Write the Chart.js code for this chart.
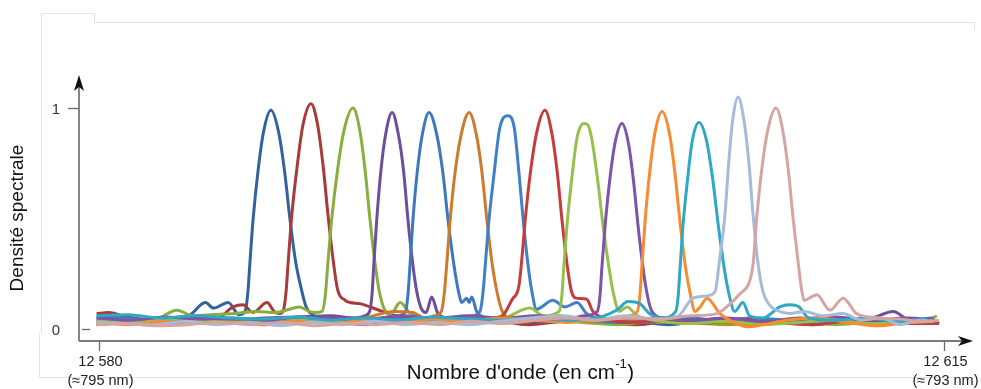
<!DOCTYPE html>
<html>
<head>
<meta charset="utf-8">
<script src="https://cdn.jsdelivr.net/npm/chart.js@4.4.1/dist/chart.umd.min.js"></script>
<style>
  body { margin: 0; background: #ffffff; }
</style>
</head>
<body>
<canvas id="spectre" width="981" height="389"></canvas>
<script>
// Axes
const xRange = [12579.17, 12616.16];
const yRange = [-0.054, 1.118];
const xTicks = [12580, 12615];
const xTickLabels = ['12 580', '12 615'];
const xTickNotes = ['(≈795 nm)', '(≈793 nm)'];
const yTicks = [0, 1];
const yTickLabels = ['0', '1'];

const couleurs = ['#32639e', '#a83a3a', '#87ae3f', '#6c4f9a', '#3d78be', '#cd7b2b', '#3f80c8',
                  '#c53c3c', '#97c04b', '#7b55a7', '#f68b31', '#2fa7c7', '#a6bbd8', '#d6a5a3'];

// Spectres (nombre d'onde en cm-1, densité normalisée)
const spectre1 = [[12579.9,0.05],[12581.2,0.04],[12582.6,0.05],[12583.7,0.06],[12584.4,0.12],[12584.75,0.095],[12585.35,0.12],[12585.8,0.065],[12586.05,0.08],[12586.16,0.16],[12586.25,0.3],[12586.38,0.495],[12586.58,0.71],[12586.81,0.89],[12587.12,0.99],[12587.44,0.89],[12587.69,0.71],[12587.91,0.495],[12588.15,0.3],[12588.34,0.2],[12588.58,0.1],[12588.92,0.06],[12589.6,0.04],[12590.6,0.05],[12591.8,0.035],[12593.2,0.045],[12594.6,0.03],[12596.0,0.04],[12597.6,0.025],[12599.1,0.04],[12600.6,0.03],[12602.1,0.035],[12603.6,0.02],[12605.1,0.04],[12606.6,0.03],[12608.1,0.035],[12609.6,0.02],[12611.1,0.04],[12612.6,0.03],[12614.0,0.035],[12614.6,0.03]];
const spectre2 = [[12579.9,0.07],[12580.4,0.075],[12581.0,0.06],[12582.2,0.04],[12583.5,0.05],[12584.9,0.05],[12585.55,0.1],[12585.96,0.11],[12586.38,0.075],[12586.96,0.12],[12587.25,0.08],[12587.45,0.07],[12587.62,0.08],[12587.74,0.16],[12587.84,0.31],[12587.98,0.51],[12588.2,0.73],[12588.44,0.92],[12588.78,1.02],[12589.06,0.92],[12589.29,0.73],[12589.49,0.51],[12589.7,0.31],[12589.88,0.18],[12590.2,0.13],[12590.4,0.12],[12590.8,0.115],[12591.6,0.085],[12592.3,0.06],[12593.4,0.045],[12594.8,0.03],[12596.3,0.04],[12597.8,0.02],[12599.3,0.035],[12600.8,0.03],[12602.3,0.02],[12603.8,0.04],[12605.3,0.03],[12606.8,0.02],[12608.3,0.035],[12609.8,0.04],[12611.3,0.025],[12612.8,0.03],[12614.0,0.03],[12614.8,0.03]];
const spectre3 = [[12579.9,0.02],[12581.0,0.03],[12582.3,0.04],[12583.23,0.085],[12583.9,0.06],[12584.6,0.065],[12585.6,0.07],[12586.5,0.08],[12587.3,0.075],[12587.9,0.09],[12588.3,0.1],[12588.7,0.08],[12588.95,0.075],[12589.24,0.08],[12589.38,0.16],[12589.48,0.3],[12589.64,0.5],[12589.88,0.72],[12590.15,0.9],[12590.52,1.0],[12590.8,0.9],[12591.02,0.72],[12591.22,0.5],[12591.43,0.3],[12591.61,0.17],[12591.82,0.09],[12592.1,0.07],[12592.47,0.12],[12592.9,0.07],[12593.5,0.05],[12594.5,0.04],[12595.8,0.05],[12597.2,0.03],[12598.6,0.04],[12600.0,0.03],[12601.5,0.02],[12603.0,0.035],[12604.5,0.03],[12606.0,0.02],[12607.5,0.03],[12609.0,0.035],[12610.5,0.02],[12612.0,0.03],[12613.5,0.025],[12614.3,0.04],[12614.7,0.06]];
const spectre4 = [[12579.9,0.04],[12581.3,0.03],[12582.7,0.045],[12584.0,0.05],[12585.4,0.04],[12586.8,0.05],[12588.2,0.055],[12589.6,0.06],[12590.6,0.05],[12591.0,0.06],[12591.21,0.08],[12591.31,0.16],[12591.38,0.29],[12591.5,0.49],[12591.67,0.71],[12591.87,0.88],[12592.14,0.98],[12592.4,0.88],[12592.62,0.71],[12592.8,0.49],[12593.0,0.29],[12593.16,0.17],[12593.36,0.09],[12593.55,0.075],[12593.78,0.145],[12594.04,0.07],[12594.5,0.05],[12595.5,0.04],[12597.0,0.05],[12598.5,0.03],[12600.0,0.045],[12601.5,0.035],[12603.0,0.05],[12604.5,0.04],[12606.0,0.045],[12607.5,0.03],[12609.0,0.05],[12610.5,0.04],[12612.0,0.05],[12612.9,0.08],[12613.6,0.04],[12614.6,0.045]];
const spectre5 = [[12579.9,0.06],[12581.0,0.05],[12582.4,0.04],[12583.8,0.03],[12585.2,0.045],[12586.6,0.04],[12588.0,0.03],[12589.4,0.045],[12590.8,0.04],[12591.8,0.05],[12592.4,0.06],[12592.7,0.08],[12592.8,0.16],[12592.88,0.29],[12593.0,0.49],[12593.18,0.71],[12593.39,0.88],[12593.67,0.98],[12593.99,0.88],[12594.24,0.71],[12594.46,0.49],[12594.7,0.29],[12594.89,0.17],[12595.02,0.12],[12595.23,0.14],[12595.33,0.12],[12595.44,0.145],[12595.64,0.08],[12596.0,0.05],[12597.0,0.035],[12598.5,0.05],[12600.0,0.04],[12601.5,0.03],[12603.0,0.04],[12604.5,0.05],[12606.0,0.035],[12607.5,0.045],[12609.0,0.03],[12610.5,0.04],[12612.0,0.05],[12613.5,0.04],[12614.5,0.05]];
const spectre6 = [[12579.9,0.03],[12581.4,0.04],[12582.8,0.025],[12584.2,0.035],[12585.6,0.03],[12587.0,0.045],[12588.4,0.035],[12589.8,0.04],[12591.0,0.05],[12592.2,0.08],[12593.0,0.075],[12593.5,0.05],[12593.9,0.06],[12594.18,0.08],[12594.3,0.16],[12594.4,0.29],[12594.54,0.49],[12594.75,0.71],[12595.0,0.88],[12595.33,0.98],[12595.63,0.88],[12595.86,0.71],[12596.07,0.49],[12596.29,0.29],[12596.48,0.17],[12596.7,0.08],[12597.0,0.05],[12597.8,0.04],[12599.0,0.06],[12600.4,0.035],[12601.8,0.045],[12603.2,0.03],[12604.6,0.04],[12606.0,0.025],[12607.4,0.035],[12608.8,0.045],[12610.2,0.03],[12611.6,0.04],[12613.0,0.03],[12614.4,0.035]];
const spectre7 = [[12579.9,0.035],[12581.2,0.045],[12582.6,0.03],[12584.0,0.04],[12585.4,0.025],[12586.8,0.035],[12588.2,0.03],[12589.6,0.04],[12591.0,0.035],[12592.4,0.045],[12593.8,0.04],[12595.0,0.05],[12595.5,0.06],[12595.78,0.08],[12595.9,0.16],[12596.0,0.29],[12596.14,0.48],[12596.36,0.7],[12596.6,0.91],[12596.94,0.965],[12597.2,0.91],[12597.4,0.7],[12597.58,0.48],[12597.77,0.29],[12597.93,0.17],[12598.12,0.09],[12598.8,0.13],[12599.3,0.1],[12599.8,0.12],[12600.2,0.07],[12601.0,0.04],[12602.5,0.03],[12604.0,0.045],[12605.5,0.035],[12607.0,0.05],[12608.5,0.04],[12610.0,0.03],[12611.5,0.045],[12613.0,0.04],[12614.5,0.045]];
const spectre8 = [[12579.9,0.02],[12581.3,0.03],[12582.7,0.02],[12584.1,0.035],[12585.5,0.03],[12586.9,0.02],[12588.3,0.04],[12589.7,0.03],[12591.1,0.02],[12592.5,0.035],[12593.9,0.03],[12595.3,0.04],[12596.2,0.05],[12596.7,0.06],[12597.15,0.14],[12597.3,0.16],[12597.4,0.2],[12597.5,0.3],[12597.65,0.49],[12597.87,0.71],[12598.13,0.89],[12598.47,0.99],[12598.75,0.89],[12598.98,0.71],[12599.18,0.49],[12599.39,0.29],[12599.57,0.17],[12599.75,0.14],[12600.2,0.135],[12600.46,0.08],[12600.9,0.05],[12602.0,0.03],[12603.5,0.04],[12605.0,0.025],[12606.5,0.045],[12608.0,0.03],[12609.5,0.02],[12611.0,0.035],[12612.5,0.03],[12614.0,0.025],[12614.8,0.025]];
const spectre9 = [[12579.9,0.04],[12581.5,0.03],[12583.0,0.045],[12584.5,0.035],[12586.0,0.03],[12587.5,0.045],[12589.0,0.035],[12590.5,0.03],[12592.0,0.04],[12593.5,0.03],[12595.0,0.045],[12596.5,0.04],[12597.85,0.095],[12598.4,0.06],[12599.06,0.08],[12599.17,0.15],[12599.25,0.28],[12599.38,0.465],[12599.57,0.67],[12599.79,0.86],[12599.99,0.925],[12600.09,0.93],[12600.24,0.925],[12600.41,0.86],[12600.66,0.67],[12600.88,0.465],[12601.12,0.28],[12601.31,0.16],[12601.55,0.08],[12601.87,0.1],[12602.3,0.06],[12603.0,0.04],[12604.5,0.025],[12606.0,0.035],[12607.5,0.02],[12609.0,0.03],[12610.5,0.04],[12612.0,0.025],[12613.5,0.03],[12614.6,0.035]];
const spectre10 = [[12579.9,0.05],[12581.3,0.04],[12582.7,0.055],[12584.1,0.045],[12585.5,0.05],[12586.9,0.04],[12588.3,0.055],[12589.7,0.05],[12591.1,0.045],[12592.5,0.06],[12593.9,0.05],[12595.3,0.06],[12596.7,0.05],[12598.1,0.06],[12599.5,0.05],[12600.1,0.06],[12600.64,0.08],[12600.75,0.15],[12600.83,0.28],[12600.96,0.465],[12601.15,0.67],[12601.37,0.84],[12601.66,0.93],[12601.93,0.84],[12602.14,0.67],[12602.33,0.465],[12602.53,0.28],[12602.7,0.16],[12602.9,0.08],[12603.4,0.05],[12604.5,0.04],[12606.0,0.05],[12607.5,0.035],[12609.0,0.045],[12610.5,0.055],[12612.0,0.04],[12613.5,0.05],[12614.6,0.04]];
const spectre11 = [[12579.9,0.03],[12581.2,0.02],[12582.6,0.035],[12584.0,0.025],[12585.4,0.03],[12586.8,0.02],[12588.2,0.035],[12589.6,0.025],[12591.0,0.04],[12592.4,0.03],[12593.8,0.045],[12595.2,0.035],[12596.6,0.05],[12598.0,0.04],[12599.4,0.03],[12600.8,0.045],[12601.6,0.05],[12602.0,0.06],[12602.3,0.08],[12602.41,0.16],[12602.49,0.29],[12602.62,0.49],[12602.81,0.71],[12603.03,0.89],[12603.32,0.985],[12603.62,0.89],[12603.85,0.71],[12604.06,0.49],[12604.28,0.29],[12604.47,0.17],[12604.69,0.08],[12604.9,0.1],[12605.18,0.14],[12605.72,0.07],[12606.3,0.03],[12606.84,0.01],[12607.5,0.02],[12608.5,0.04],[12609.8,0.05],[12611.0,0.03],[12612.3,0.015],[12613.5,0.03],[12614.5,0.035]];
const spectre12 = [[12579.9,0.06],[12581.2,0.065],[12582.6,0.05],[12584.0,0.06],[12585.4,0.05],[12586.8,0.045],[12588.2,0.055],[12589.6,0.04],[12591.0,0.05],[12592.4,0.04],[12593.8,0.055],[12595.2,0.045],[12596.6,0.04],[12598.0,0.05],[12599.4,0.04],[12600.6,0.05],[12601.5,0.09],[12601.9,0.125],[12602.4,0.115],[12602.8,0.07],[12603.3,0.05],[12603.89,0.08],[12603.99,0.15],[12604.07,0.28],[12604.19,0.47],[12604.37,0.67],[12604.57,0.85],[12604.85,0.935],[12605.17,0.85],[12605.43,0.67],[12605.65,0.47],[12605.89,0.28],[12606.09,0.16],[12606.33,0.08],[12606.67,0.12],[12606.95,0.06],[12607.5,0.05],[12608.2,0.1],[12608.6,0.11],[12609.0,0.1],[12609.4,0.05],[12610.5,0.04],[12611.8,0.05],[12613.0,0.035],[12614.3,0.045]];
const spectre13 = [[12579.9,0.03],[12581.0,0.025],[12582.3,0.02],[12583.6,0.035],[12584.9,0.02],[12586.2,0.03],[12587.5,0.015],[12588.8,0.03],[12590.1,0.02],[12591.4,0.035],[12592.7,0.02],[12594.0,0.03],[12595.3,0.02],[12596.6,0.035],[12597.9,0.05],[12599.2,0.06],[12600.5,0.04],[12601.8,0.06],[12603.1,0.045],[12604.0,0.06],[12604.6,0.14],[12605.18,0.15],[12605.52,0.17],[12605.69,0.3],[12605.93,0.52],[12606.08,0.75],[12606.24,0.94],[12606.47,1.05],[12606.72,0.94],[12606.92,0.75],[12607.09,0.52],[12607.28,0.31],[12607.5,0.17],[12607.77,0.11],[12608.07,0.085],[12608.6,0.07],[12609.2,0.08],[12610.0,0.06],[12610.8,0.07],[12611.6,0.04],[12612.4,0.05],[12613.2,0.02],[12614.0,0.04],[12614.5,0.035]];
const spectre14 = [[12579.9,0.02],[12581.1,0.025],[12582.4,0.015],[12583.7,0.02],[12585.0,0.03],[12586.3,0.02],[12587.6,0.03],[12588.9,0.015],[12590.2,0.025],[12591.5,0.02],[12592.8,0.03],[12594.1,0.02],[12595.4,0.035],[12596.7,0.025],[12598.0,0.04],[12599.3,0.05],[12600.6,0.04],[12601.9,0.05],[12603.2,0.045],[12604.5,0.06],[12605.6,0.07],[12606.0,0.1],[12606.55,0.16],[12606.96,0.22],[12607.1,0.3],[12607.24,0.5],[12607.45,0.72],[12607.7,0.9],[12608.04,1.0],[12608.32,0.9],[12608.55,0.72],[12608.75,0.5],[12608.96,0.3],[12609.1,0.18],[12609.2,0.13],[12609.73,0.155],[12610.28,0.085],[12610.82,0.14],[12611.38,0.07],[12612.3,0.05],[12613.2,0.045],[12614.0,0.035],[12614.8,0.04]];

const spectres = [spectre1, spectre2, spectre3, spectre4, spectre5, spectre6, spectre7,
                  spectre8, spectre9, spectre10, spectre11, spectre12, spectre13, spectre14];

// Axes, fleches, graduations et titres dessines a la main
const axesPlugin = {
    id: 'axesFleches',
    afterDraw(chart) {
        const ctx = chart.ctx;
        const xs = chart.scales.x;
        const ys = chart.scales.y;
        const area = chart.chartArea;
        const x0 = area.left;
        const y0 = area.bottom;

        ctx.save();

        // cadre gris clair
        ctx.strokeStyle = '#e3e3e3';
        ctx.lineWidth = 1;
        ctx.beginPath();
        ctx.moveTo(41.5, 333); ctx.lineTo(41.5, 13.5); ctx.lineTo(94.5, 13.5); ctx.lineTo(94.5, 22.5);
        ctx.lineTo(974.5, 22.5); ctx.lineTo(974.5, 30);
        ctx.moveTo(39.5, 333); ctx.lineTo(39.5, 377.5); ctx.lineTo(975, 377.5);
        ctx.stroke();

        // axes
        ctx.strokeStyle = '#7a7a7a';
        ctx.lineWidth = 1.8;
        ctx.beginPath();
        ctx.moveTo(x0, y0);
        ctx.lineTo(x0, area.top + 4);
        ctx.moveTo(x0, y0);
        ctx.lineTo(area.right - 8, y0);
        ctx.stroke();

        ctx.fillStyle = '#111111';
        ctx.beginPath();
        ctx.moveTo(x0, area.top - 7);
        ctx.lineTo(x0 + 5, area.top + 9);
        ctx.lineTo(x0, area.top + 5);
        ctx.lineTo(x0 - 5, area.top + 9);
        ctx.closePath();
        ctx.fill();
        ctx.beginPath();
        ctx.moveTo(area.right + 1, y0);
        ctx.lineTo(area.right - 14, y0 - 5);
        ctx.lineTo(area.right - 10, y0);
        ctx.lineTo(area.right - 14, y0 + 5);
        ctx.closePath();
        ctx.fill();

        // graduations y
        ctx.strokeStyle = '#6a6a6a';
        ctx.lineWidth = 1.3;
        ctx.font = '15px "Liberation Sans", Arial, sans-serif';
        ctx.fillStyle = '#333333';
        ctx.textAlign = 'center';
        ctx.textBaseline = 'middle';
        yTicks.forEach((v, i) => {
            const py = Math.round(ys.getPixelForValue(v)) + 0.5;
            ctx.beginPath();
            if (v === 0) {
                ctx.moveTo(x0 + 3, py); ctx.lineTo(x0 + 11, py);
            } else {
                ctx.moveTo(x0 - 11, py); ctx.lineTo(x0, py);
            }
            ctx.stroke();
            ctx.fillText(yTickLabels[i], 56, py + 1);
        });

        // graduations x
        xTicks.forEach((v, i) => {
            const px = Math.round(xs.getPixelForValue(v)) + 0.5;
            ctx.beginPath();
            ctx.moveTo(px, y0 + 1);
            ctx.lineTo(px, y0 + 10);
            ctx.stroke();
            ctx.fillStyle = '#222222';
            ctx.font = '14.5px "Liberation Sans", Arial, sans-serif';
            ctx.fillText(xTickLabels[i], px + 1, y0 + 21);
            ctx.fillText(xTickNotes[i], px + 1, y0 + 40);
        });

        // titre x avec exposant
        ctx.fillStyle = '#111111';
        ctx.textAlign = 'left';
        ctx.textBaseline = 'alphabetic';
        const fontMain = '20.5px "Liberation Sans", Arial, sans-serif';
        const fontSup = '13px "Liberation Sans", Arial, sans-serif';
        const part1 = "Nombre d'onde (en cm";
        const sup = '-1';
        const part2 = ')';
        ctx.font = fontMain;
        const w1 = ctx.measureText(part1).width;
        const w3 = ctx.measureText(part2).width;
        ctx.font = fontSup;
        const w2 = ctx.measureText(sup).width;
        let sx = 520 - (w1 + w2 + w3) / 2;
        const base = 379;
        ctx.font = fontMain;
        ctx.fillText(part1, sx, base);
        ctx.font = fontSup;
        ctx.fillText(sup, sx + w1 + 0.5, base - 11);
        ctx.font = fontMain;
        ctx.fillText(part2, sx + w1 + w2 + 1, base);

        // titre y
        ctx.translate(18, 218);
        ctx.rotate(-Math.PI / 2);
        ctx.textAlign = 'center';
        ctx.textBaseline = 'middle';
        ctx.font = '19px "Liberation Sans", Arial, sans-serif';
        ctx.fillText('Densité spectrale', 0, 0);

        ctx.restore();
    }
};

const datasets = spectres.map((serie, i) => ({
    label: 'Spectre ' + (i + 1),
    data: serie.map(p => ({ x: p[0], y: p[1] })),
    borderColor: couleurs[i],
    borderWidth: 3,
    pointRadius: 0,
    fill: false,
    cubicInterpolationMode: 'monotone',
    order: spectres.length - i
}));

new Chart(document.getElementById('spectre'), {
    type: 'line',
    data: { datasets: datasets },
    options: {
        responsive: false,
        animation: false,
        clip: false,
        layout: { padding: { left: 79, right: 9, top: 82, bottom: 48 } },
        plugins: {
            legend: { display: false },
            tooltip: { enabled: false }
        },
        scales: {
            x: { type: 'linear', min: xRange[0], max: xRange[1], display: false },
            y: { type: 'linear', min: yRange[0], max: yRange[1], display: false }
        }
    },
    plugins: [axesPlugin]
});
</script>
</body>
</html>
